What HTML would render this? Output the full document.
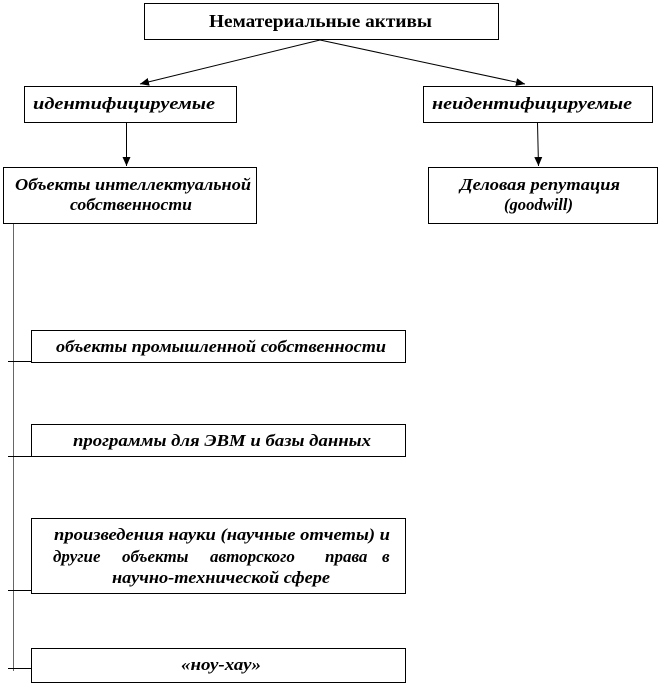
<!DOCTYPE html>
<html><head><meta charset="utf-8"><style>
html,body{margin:0;padding:0;background:#fff;}
svg{display:block;}
text{font-family:"Liberation Serif","DejaVu Serif",serif;font-weight:bold;fill:#000;}
.i{font-style:italic;font-size:17px;}
</style></head><body>
<svg width="661" height="685" viewBox="0 0 661 685" xmlns="http://www.w3.org/2000/svg">
<defs><marker id="a" markerWidth="10" markerHeight="10" refX="9" refY="5" orient="auto" markerUnits="userSpaceOnUse"><path d="M0,1 L9,5 L0,9 z" fill="#000"/></marker></defs>
<g fill="#fff" stroke="#000" stroke-width="1">
<rect x="144.5" y="3.5" width="354" height="36"/>
<rect x="24.5" y="86.5" width="212" height="36"/>
<rect x="423.5" y="86.5" width="229" height="36"/>
<rect x="3.5" y="167.5" width="253" height="56"/>
<rect x="428.5" y="167.5" width="229" height="56"/>
<rect x="31.5" y="330.5" width="374" height="32"/>
<rect x="31.5" y="424.5" width="374" height="32"/>
<rect x="31.5" y="518.5" width="374" height="75"/>
<rect x="31.5" y="648.5" width="374" height="34"/>
</g>
<g stroke="#000" stroke-width="1" fill="none">
<line x1="320" y1="40" x2="140" y2="84" marker-end="url(#a)"/>
<line x1="320" y1="40" x2="525" y2="84" marker-end="url(#a)"/>
<line x1="126.5" y1="123" x2="126.5" y2="166" marker-end="url(#a)"/>
<line x1="537.5" y1="123" x2="538.5" y2="166" marker-end="url(#a)"/>
<line x1="13.5" y1="224" x2="13.5" y2="671" stroke="#666"/>
<line x1="8" y1="361.5" x2="31" y2="361.5"/>
<line x1="8" y1="456.5" x2="31" y2="456.5"/>
<line x1="8" y1="590.5" x2="31" y2="590.5"/>
<line x1="8" y1="668.5" x2="31" y2="668.5"/>
</g>
<text x="209" y="27" font-size="18" textLength="223" lengthAdjust="spacingAndGlyphs">Нематериальные  активы</text>
<text class="i" x="33" y="109" textLength="182" lengthAdjust="spacingAndGlyphs">идентифицируемые</text>
<text class="i" x="432" y="109" textLength="200" lengthAdjust="spacingAndGlyphs">неидентифицируемые</text>
<text class="i" x="15" y="190" textLength="236" lengthAdjust="spacingAndGlyphs">Объекты интеллектуальной</text>
<text class="i" x="70" y="210" textLength="122" lengthAdjust="spacingAndGlyphs">собственности</text>
<text class="i" x="460" y="190" textLength="160" lengthAdjust="spacingAndGlyphs">Деловая репутация</text>
<text class="i" x="504" y="210" textLength="69" lengthAdjust="spacingAndGlyphs">(goodwill)</text>
<text class="i" x="56" y="352" textLength="330" lengthAdjust="spacingAndGlyphs">объекты промышленной собственности</text>
<text class="i" x="73" y="446" textLength="298" lengthAdjust="spacingAndGlyphs">программы для ЭВМ и базы данных</text>
<text class="i" x="54" y="540" textLength="336" lengthAdjust="spacingAndGlyphs">произведения науки (научные отчеты) и</text>
<text class="i" x="53" y="562"><tspan x="53">другие</tspan><tspan x="122">объекты</tspan><tspan x="210">авторского</tspan><tspan x="325">права</tspan><tspan x="382">в</tspan></text>
<text class="i" x="112" y="583" textLength="218" lengthAdjust="spacingAndGlyphs">научно-технической сфере</text>
<text class="i" x="181" y="670" textLength="80" lengthAdjust="spacingAndGlyphs">«ноу-хау»</text>
</svg>
</body></html>
